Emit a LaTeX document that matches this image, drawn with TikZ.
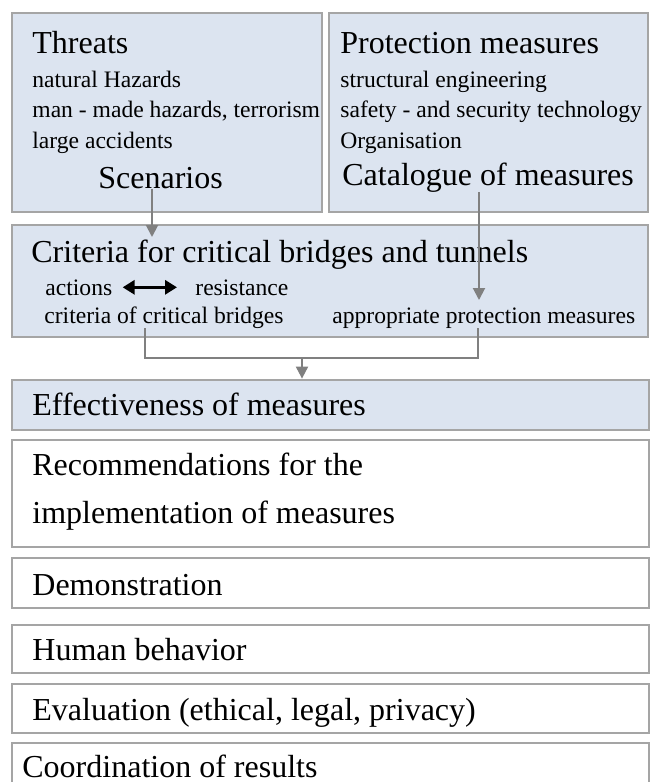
\documentclass[tikz,border=0pt]{standalone}
\usepackage{fontspec}
\setmainfont{Liberation Serif}
\usetikzlibrary{arrows.meta,fit}
\definecolor{boxblue}{RGB}{220,228,240}
\definecolor{boxline}{RGB}{165,165,165}
\definecolor{linkgray}{RGB}{128,128,128}

\begin{document}
\begin{tikzpicture}[x=0.5pt,y=-0.5pt,
      bluebox/.style={rectangle, draw=boxline, line width=1.4pt, fill=boxblue, inner sep=0pt},
      whitebox/.style={bluebox, fill=white},
      head/.style={anchor=base west, inner sep=0pt, font=\fontsize{16}{19}\selectfont},
      item/.style={anchor=base west, inner sep=0pt, font=\fontsize{11.8}{14}\selectfont},
      link/.style={draw=linkgray, line width=1pt},
      linkarrow/.style={link, -{Triangle[width=6pt,length=6pt]}},
      twoway/.style={line width=1.5pt, {Triangle[width=7pt,length=6pt]}-{Triangle[width=7pt,length=6pt]}}]
      \useasboundingbox (0,0) rectangle (651,782);
      \clip (0,0) rectangle (651,782);
      % boxes
      \node[bluebox, fit={(12,13) (322,212)}] (threats) {};
      \node[bluebox, fit={(329,13) (648,212)}] (protect) {};
      \node[bluebox, fit={(12,225) (648,337)}] (criteria) {};
      \node[bluebox, fit={(12,380) (649,430)}] (effect) {};
      \node[whitebox, fit={(12,440) (649,547)}] (recomm) {};
      \node[whitebox, fit={(12,558) (649,608)}] (demo) {};
      \node[whitebox, fit={(12,625) (649,673)}] (human) {};
      \node[whitebox, fit={(12,684) (649,733)}] (evaluation) {};
      \node[whitebox, fit={(12,743) (649,800)}] (coord) {};
      % threats
      \node[head](threatstitle) at (32,53){Threats};
      \node[item](natural) at (32,87){natural Hazards};
      \node[item](manmade) at (32,117){man - made hazards, terrorism};
      \node[item](accidents) at (32,148){large accidents};
      \node[head](scenarios) at (98,188){Scenarios};
      % protection measures
      \node[head](protecttitle) at (340,53){Protection measures};
      \node[item](structural) at (340,87){structural engineering};
      \node[item](safety) at (340,117){safety - and security technology};
      \node[item](organisation) at (340,148){Organisation};
      \node[head](catalogue) at (342,185){Catalogue of measures};
      % criteria
      \node[head](crittitle) at (31,262){Criteria for critical bridges and tunnels};
      \node[item](actions) at (45,295){actions};
      \node[item](resistance) at (195,295){resistance};
      \node[item](critbridges) at (44,323){criteria of critical bridges};
      \node[item](appropriate) at (332,323){appropriate protection measures};
      % lower boxes
      \node[head](effecttext) at (32,415){Effectiveness of measures};
      \node[head](recommtext) at (32,475){Recommendations for the};
      \node[head](implementtext) at (32,523){implementation of measures};
      \node[head](demotext) at (32,595){Demonstration};
      \node[head](humantext) at (32,660){Human behavior};
      \node[head](evaltext) at (32,720){Evaluation (ethical, legal, privacy)};
      \node[head](coordtext) at (22,777){Coordination of results};
      % connectors
      \coordinate(scentip) at (152,237);
      \coordinate(cattip) at (479,300);
      \coordinate(leftdrop) at (145,358);
      \coordinate(rightdrop) at (478,358);
      \coordinate(join) at (302,358);
      \draw[linkarrow] (scenarios.south -| scentip) -- (scentip);
      \draw[linkarrow] (catalogue.south -| cattip) -- (cattip);
      \draw[twoway, shorten <=5pt, shorten >=9pt] (actions.east) -- (resistance.west);
      \draw[link] (critbridges.south -| leftdrop) -- (leftdrop) -- (rightdrop) -- (appropriate.south -| rightdrop);
      \draw[linkarrow] (join) -- (join |- effect.north);
    \end{tikzpicture}
\end{document}
